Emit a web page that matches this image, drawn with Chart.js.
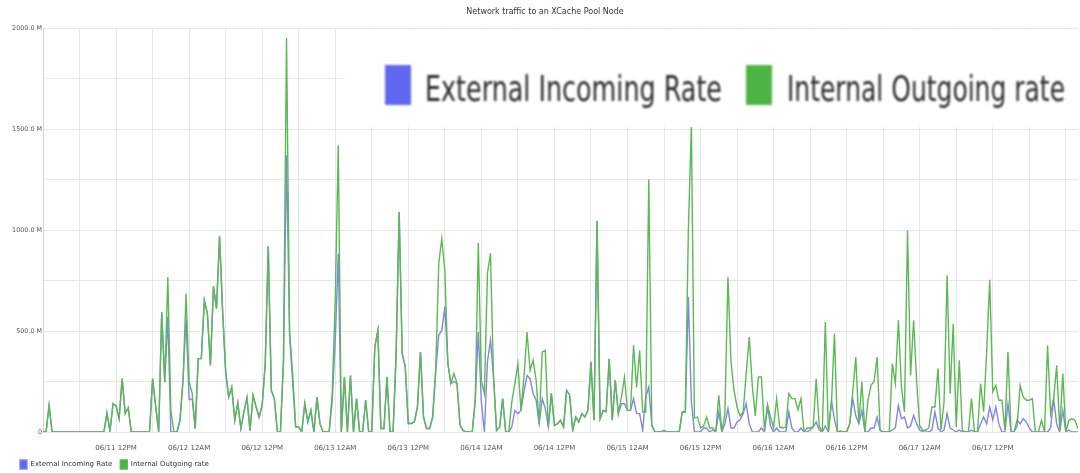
<!DOCTYPE html>
<html>
<head>
<meta charset="utf-8">
<title>Network traffic to an XCache Pool Node</title>
<script src="https://cdn.jsdelivr.net/npm/chart.js@4.4.0/dist/chart.umd.min.js"></script>
<style>
  html, body { margin: 0; padding: 0; background: #fff; overflow: hidden; }
</style>
</head>
<body>
<canvas id="trafficChart" width="1080" height="473"></canvas>
<script>
// samples every 30 minutes starting 06/11 12AM, rates in M
var firstDay = 11;
var sampleHours = 0.5;

var incoming = [
  0, 0, 132, 0, 0, 0, 0, 0, 0, 0,
  0, 0, 0, 0, 0, 0, 0, 0, 0, 0,
  0, 94, 5, 140, 130, 66, 264, 91, 120, 0,
  0, 0, 0, 0, 0, 0, 264, 130, 0, 594,
  247, 570, 0, 0, 0, 58, 256, 561, 160, 165,
  16, 363, 363, 652, 586, 330, 721, 611, 969, 600,
  300, 173, 222, 58, 144, 17, 100, 170, 7, 181,
  124, 74, 132, 338, 919, 206, 165, 0, 0, 355,
  1370, 480, 250, 25, 25, 0, 141, 50, 107, 0,
  173, 40, 0, 0, 0, 150, 450, 883, 0, 272,
  0, 280, 0, 165, 0, 0, 157, 0, 0, 421,
  503, 17, 17, 272, 0, 0, 388, 1089, 388, 322,
  42, 42, 50, 124, 396, 74, 17, 17, 74, 300,
  479, 503, 619, 338, 240, 250, 240, 33, 8, 0,
  0, 0, 157, 495, 150, 0, 347, 454, 272, 8,
  25, 165, 0, 0, 25, 107, 91, 107, 200, 280,
  264, 191, 157, 41, 165, 116, 25, 191, 33, 41,
  58, 25, 206, 182, 8, 74, 50, 91, 74, 107,
  347, 58, 1045, 66, 107, 100, 363, 58, 256, 91,
  140, 140, 107, 107, 165, 91, 91, 8, 173, 223,
  33, 0, 0, 0, 8, 0, 0, 0, 0, 0,
  99, 99, 668, 150, 0, 0, 0, 20, 20, 0,
  10, 0, 99, 0, 40, 116, 20, 20, 50, 60,
  91, 140, 40, 0, 0, 0, 20, 0, 124, 30,
  0, 20, 0, 0, 0, 99, 20, 0, 0, 20,
  0, 0, 10, 25, 50, 10, 0, 30, 0, 157,
  60, 0, 0, 0, 0, 40, 165, 80, 40, 107,
  0, 0, 20, 20, 74, 8, 0, 0, 0, 10,
  20, 132, 66, 74, 20, 30, 83, 40, 10, 0,
  0, 0, 10, 99, 20, 0, 10, 91, 20, 10,
  0, 10, 0, 0, 0, 10, 0, 0, 40, 74,
  40, 124, 60, 124, 40, 0, 0, 140, 0, 0,
  60, 40, 66, 50, 20, 0, 0, 0, 0, 0,
  0, 20, 165, 40, 0, 107, 0, 10, 0, 0, 0
];

var outgoing = [
  0, 0, 132, 0, 0, 0, 0, 0, 0, 0,
  0, 0, 0, 0, 0, 0, 0, 0, 0, 0,
  0, 94, 5, 140, 130, 66, 264, 91, 120, 0,
  0, 0, 0, 0, 0, 0, 264, 130, 0, 594,
  247, 767, 107, 0, 0, 58, 256, 685, 250, 191,
  16, 363, 363, 652, 586, 330, 721, 611, 969, 600,
  300, 173, 222, 58, 144, 17, 100, 170, 7, 181,
  124, 74, 132, 338, 919, 206, 165, 0, 0, 355,
  1950, 500, 290, 25, 25, 0, 141, 50, 107, 0,
  173, 40, 0, 0, 0, 190, 650, 1420, 0, 272,
  0, 280, 0, 165, 0, 0, 157, 0, 0, 421,
  503, 17, 17, 272, 0, 0, 388, 1089, 388, 322,
  42, 42, 50, 124, 396, 74, 17, 17, 74, 300,
  834, 957, 800, 338, 240, 290, 240, 33, 8, 0,
  0, 0, 157, 935, 256, 191, 785, 884, 272, 8,
  25, 165, 0, 0, 149, 240, 339, 107, 272, 495,
  305, 355, 256, 41, 396, 404, 25, 191, 33, 41,
  58, 25, 206, 182, 8, 74, 50, 91, 74, 107,
  347, 58, 1045, 66, 107, 100, 363, 58, 256, 91,
  170, 272, 107, 107, 429, 220, 404, 99, 99, 1250,
  33, 0, 0, 0, 8, 0, 0, 0, 0, 0,
  99, 99, 1000, 1520, 70, 74, 20, 30, 74, 20,
  20, 0, 182, 0, 91, 767, 350, 206, 124, 79,
  100, 289, 470, 230, 80, 272, 272, 8, 136, 74,
  20, 165, 25, 20, 25, 190, 165, 165, 110, 165,
  0, 20, 20, 25, 264, 30, 0, 545, 0, 140,
  487, 0, 5, 0, 0, 40, 200, 371, 40, 248,
  0, 157, 231, 250, 371, 8, 0, 0, 0, 338,
  240, 553, 223, 100, 998, 280, 553, 250, 30, 8,
  10, 20, 124, 124, 314, 10, 150, 776, 190, 536,
  25, 355, 8, 0, 0, 165, 0, 0, 240, 100,
  400, 754, 200, 231, 157, 157, 10, 396, 0, 0,
  30, 231, 173, 157, 157, 165, 0, 0, 58, 0,
  429, 91, 165, 330, 8, 289, 0, 58, 66, 58, 16
];

// grid every 6 hours, labels every 12 hours
var gridHours = [];
for (var h = 0; h <= 168; h += 6) { gridHours.push(h); }
var lastLabelHour = 156;

function toPoints(values) {
  return values.map(function (v, i) { return {x: i * sampleHours, y: v}; });
}

function hourLabel(h) {
  if (h <= 0 || h > lastLabelHour || h % 12 !== 0) { return ''; }
  var day = firstDay + Math.floor(h / 24);
  var half = (h % 24 === 0) ? '12AM' : '12PM';
  return '06/' + day + ' ' + half;
}

// large copy of the legend sitting over the top of the plot
var bigSpots = [
  {box: 385, text: 425, width: 297},
  {box: 746, text: 787, width: 278}
];
var bigLegend = {
  id: 'bigLegend',
  afterDraw: function (chart) {
    var ctx = chart.ctx;
    ctx.save();
    ctx.fillStyle = '#ffffff';
    ctx.fillRect(345, 30, 735, 97);
    ctx.filter = 'blur(1.1px)';
    ctx.font = '35px "DejaVu Sans"';
    ctx.textAlign = 'left';
    ctx.textBaseline = 'alphabetic';
    chart.data.datasets.forEach(function (ds, i) {
      var spot = bigSpots[i];
      ctx.fillStyle = ds.backgroundColor;
      ctx.fillRect(spot.box, 65, 26, 40);
      var w = ctx.measureText(ds.label).width;
      ctx.save();
      ctx.translate(spot.text, 101);
      ctx.scale(spot.width / w, 1);
      ctx.fillStyle = '#2a2a2a';
      ctx.fillText(ds.label, 0, 0);
      ctx.restore();
    });
    ctx.restore();
  }
};

var ctx = document.getElementById('trafficChart').getContext('2d');
var chart = new Chart(ctx, {
  type: 'line',
  data: {
    datasets: [{
      label: 'External Incoming Rate',
      data: toPoints(incoming),
      borderColor: '#8286e6',
      backgroundColor: '#5f67ee',
      borderWidth: 1.4,
      pointRadius: 0,
      tension: 0,
      order: 1
    }, {
      label: 'Internal Outgoing rate',
      data: toPoints(outgoing),
      borderColor: '#5cb954',
      backgroundColor: '#4db443',
      borderWidth: 1.4,
      pointRadius: 0,
      tension: 0,
      order: 0
    }]
  },
  options: {
    responsive: false,
    animation: false,
    layout: {
      padding: {top: 2.4, left: 12, right: 2, bottom: -6}
    },
    plugins: {
      title: {
        display: true,
        text: 'Network traffic to an XCache Pool Node',
        color: '#333',
        font: {family: 'DejaVu Sans', size: 8, weight: 'normal'},
        padding: {top: 5, bottom: 11}
      },
      legend: {
        position: 'bottom',
        align: 'start',
        labels: {
          boxWidth: 7,
          boxHeight: 9,
          padding: 8,
          color: '#333',
          font: {family: 'DejaVu Sans', size: 7},
          sort: function (a, b) { return a.datasetIndex - b.datasetIndex; }
        }
      },
      tooltip: {enabled: false}
    },
    scales: {
      x: {
        type: 'linear',
        min: 0,
        max: 170,
        afterBuildTicks: function (scale) {
          scale.ticks = gridHours.map(function (v) { return {value: v}; });
        },
        afterFit: function (scale) { scale.height = 20; },
        grid: {color: '#e6e6e6', drawTicks: false},
        border: {display: false},
        ticks: {
          autoSkip: false,
          maxRotation: 0,
          padding: 12,
          color: '#555',
          font: {family: 'DejaVu Sans', size: 7},
          callback: function (value) { return hourLabel(value); }
        }
      },
      y: {
        min: 0,
        max: 2000,
        afterFit: function (scale) { scale.width = 31; },
        grid: {color: '#e6e6e6', drawTicks: false},
        border: {display: true, color: '#d6d6d6'},
        ticks: {
          stepSize: 250,
          padding: 1,
          color: '#555',
          font: {family: 'DejaVu Sans', size: 6.4},
          callback: function (value) {
            if (value % 500 !== 0) { return ''; }
            return value === 0 ? '0' : value.toFixed(1) + ' M';
          }
        }
      }
    }
  },
  plugins: [bigLegend]
});
</script>
</body>
</html>
